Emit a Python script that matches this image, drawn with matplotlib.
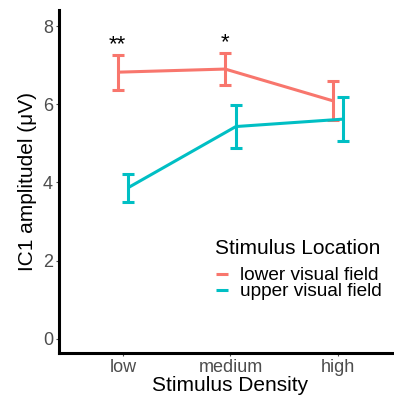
import numpy as np
import matplotlib
matplotlib.use("Agg")
import matplotlib.pyplot as plt

plt.rcParams['font.family'] = ['Liberation Sans', 'DejaVu Sans']

# data
densities = ['low', 'medium', 'high']
groups = ['lower visual field', 'upper visual field']
means = {
    'lower visual field': [6.82, 6.90, 6.09],
    'upper visual field': [3.87, 5.43, 5.62],
}
err_lo = {
    'lower visual field': [6.37, 6.49, 5.60],
    'upper visual field': [3.50, 4.88, 5.05],
}
err_hi = {
    'lower visual field': [7.26, 7.32, 6.60],
    'upper visual field': [4.22, 5.97, 6.18],
}
stars = ['**', '*', '']
star_y = [7.52, 7.58, 0]
colors = {'lower visual field': '#F8766D', 'upper visual field': '#00BFC4'}
dodge = {'lower visual field': -0.05, 'upper visual field': 0.05}

W, H = 394, 399
fig = plt.figure(figsize=(W/100, H/100), dpi=100)
# panel in pixels: left 58.5, right 402.5, top 10, bottom 353
ax = fig.add_axes([58.5/W, (H-353)/H, 344/W, 343/H])

x = np.arange(1, len(densities)+1)
handles = []
for g in groups:
    xs = x + dodge[g]
    m = np.array(means[g])
    lo = m - np.array(err_lo[g])
    hi = np.array(err_hi[g]) - m
    ln, = ax.plot(xs, m, color=colors[g], lw=2.2, label=g, solid_capstyle='butt')
    handles.append(ln)
    ax.errorbar(xs, m, yerr=[lo, hi], fmt='none', ecolor=colors[g],
                elinewidth=2.2, capsize=4.5, capthick=2.2)

for i, s in enumerate(stars):
    if s:
        ax.text(x[i] + dodge['lower visual field'], star_y[i], s,
                ha='center', va='center', fontsize=16, color='black')

ax.set_xlim(0.4, 3.6)
ax.set_ylim(-0.36, 8.41)
ax.set_xticks(x)
ax.set_xticklabels(densities)
ax.set_yticks([0, 2, 4, 6, 8])
ax.tick_params(axis='both', colors='#4D4D4D', labelsize=13, length=2.5,
               width=0.8, pad=1.5)
ax.tick_params(axis='x', pad=2)

for side in ['top', 'right']:
    ax.spines[side].set_visible(False)
for side in ['left', 'bottom']:
    ax.spines[side].set_linewidth(2.2)
    ax.spines[side].set_color('black')

ax.set_xlabel('Stimulus Density', fontsize=15, labelpad=0)
ax.set_ylabel('IC1 amplitudel (μV)', fontsize=15, labelpad=4)

# legend: title as plain text, entries packed tight like ggplot
fig.text(215/W, (H-248)/H, 'Stimulus Location', fontsize=15,
         ha='left', va='center')
ax.legend(handles=handles, labels=groups, loc='upper left',
          bbox_to_anchor=(216/W, (H-267)/H), bbox_transform=fig.transFigure,
          frameon=False, fontsize=13.7, handlelength=0.63,
          handletextpad=0.63, labelspacing=-0.06, borderpad=0,
          borderaxespad=0)

fig.savefig('out.png', dpi=100)
